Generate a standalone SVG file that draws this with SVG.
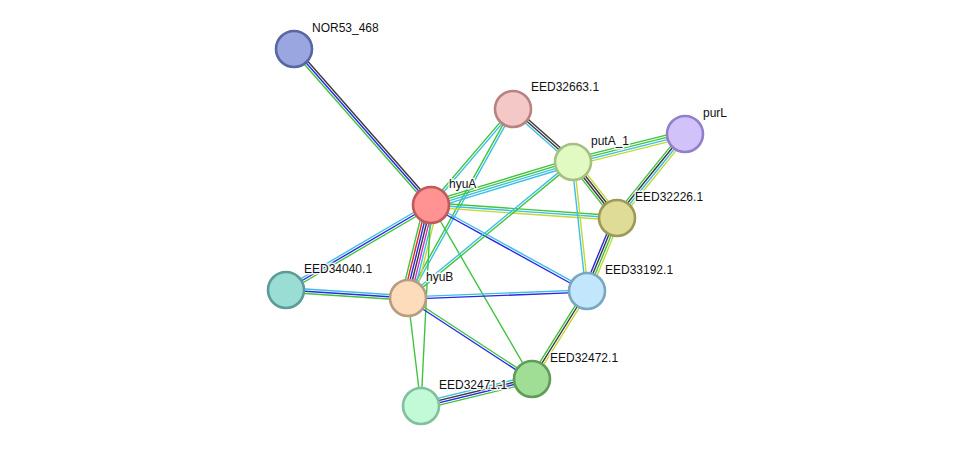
<svg xmlns="http://www.w3.org/2000/svg" width="975" height="452" viewBox="0 0 975 452">
<style>
line{stroke-width:1.4;fill:none}
.g{stroke:#3ec43e}.c{stroke:#3cbfe4}.b{stroke:#2828e6}.k{stroke:#3a3a3a}.y{stroke:#c4d838}.r{stroke:#e62626}.m{stroke:#d030d0}
circle{stroke-width:2.6}
text{font-family:"Liberation Sans",Arial,sans-serif;font-size:12px;fill:#111;stroke:#fff;stroke-width:3;stroke-opacity:0.85;paint-order:stroke;stroke-linejoin:round}
</style>
<rect width="975" height="452" fill="#fff"/>
<g id="edges">
<g transform="translate(294,49) rotate(48.71)"><line class="k" x1="0" y1="-2.3" x2="207.6" y2="-2.3"/><line class="b" x1="0" y1="0" x2="207.6" y2="0"/><line class="g" x1="0" y1="2.3" x2="207.6" y2="2.3"/></g>
<g transform="translate(513,109) rotate(130.51)"><line class="c" x1="0" y1="-1.15" x2="126.3" y2="-1.15"/><line class="g" x1="0" y1="1.15" x2="126.3" y2="1.15"/></g>
<g transform="translate(513,109) rotate(41.46)"><line class="k" x1="0" y1="-2.3" x2="80" y2="-2.3"/><line class="k" x1="0" y1="0" x2="80" y2="0"/><line class="c" x1="0" y1="2.3" x2="80" y2="2.3"/></g>
<g transform="translate(513,109) rotate(119.05)"><line class="c" x1="0" y1="-1.15" x2="216.2" y2="-1.15"/><line class="g" x1="0" y1="1.15" x2="216.2" y2="1.15"/></g>
<g transform="translate(573,162) rotate(-14.04)"><line class="g" x1="0" y1="-3.45" x2="115.4" y2="-3.45"/><line class="g" x1="0" y1="-1.15" x2="115.4" y2="-1.15"/><line class="c" x1="0" y1="1.15" x2="115.4" y2="1.15"/><line class="y" x1="0" y1="3.45" x2="115.4" y2="3.45"/></g>
<g transform="translate(685,134) rotate(128.99)"><line class="y" x1="0" y1="-3.45" x2="108.1" y2="-3.45"/><line class="c" x1="0" y1="-1.15" x2="108.1" y2="-1.15"/><line class="k" x1="0" y1="1.15" x2="108.1" y2="1.15"/><line class="g" x1="0" y1="3.45" x2="108.1" y2="3.45"/></g>
<g transform="translate(431,205) rotate(-16.85)"><line class="g" x1="0" y1="-3.45" x2="148.4" y2="-3.45"/><line class="g" x1="0" y1="-1.15" x2="148.4" y2="-1.15"/><line class="c" x1="0" y1="1.15" x2="148.4" y2="1.15"/><line class="c" x1="0" y1="3.45" x2="148.4" y2="3.45"/></g>
<g transform="translate(431,205) rotate(4.0)"><line class="g" x1="0" y1="-2.3" x2="186.5" y2="-2.3"/><line class="c" x1="0" y1="0" x2="186.5" y2="0"/><line class="y" x1="0" y1="2.3" x2="186.5" y2="2.3"/></g>
<g transform="translate(431,205) rotate(28.87)"><line class="c" x1="0" y1="-1.15" x2="178.1" y2="-1.15"/><line class="b" x1="0" y1="1.15" x2="178.1" y2="1.15"/></g>
<g transform="translate(431,205) rotate(149.62)"><line class="g" x1="0" y1="-2.3" x2="168.1" y2="-2.3"/><line class="b" x1="0" y1="0" x2="168.1" y2="0"/><line class="c" x1="0" y1="2.3" x2="168.1" y2="2.3"/></g>
<g transform="translate(431,205) rotate(103.89)"><line class="y" x1="0" y1="-6.9" x2="95.8" y2="-6.9"/><line class="c" x1="0" y1="-4.6" x2="95.8" y2="-4.6"/><line class="m" x1="0" y1="-2.3" x2="95.8" y2="-2.3"/><line class="k" x1="0" y1="0" x2="95.8" y2="0"/><line class="b" x1="0" y1="2.3" x2="95.8" y2="2.3"/><line class="r" x1="0" y1="4.6" x2="95.8" y2="4.6"/><line class="g" x1="0" y1="6.9" x2="95.8" y2="6.9"/></g>
<g transform="translate(431,205) rotate(59.87)"><line class="g" x1="0" y1="0" x2="201.2" y2="0"/></g>
<g transform="translate(431,205) rotate(92.85)"><line class="g" x1="0" y1="0" x2="201.2" y2="0"/></g>
<g transform="translate(573,162) rotate(140.51)"><line class="g" x1="0" y1="-1.15" x2="213.8" y2="-1.15"/><line class="c" x1="0" y1="1.15" x2="213.8" y2="1.15"/></g>
<g transform="translate(573,162) rotate(83.81)"><line class="y" x1="0" y1="-1.15" x2="129.8" y2="-1.15"/><line class="c" x1="0" y1="1.15" x2="129.8" y2="1.15"/></g>
<g transform="translate(573,162) rotate(51.84)"><line class="y" x1="0" y1="-3.45" x2="71.2" y2="-3.45"/><line class="k" x1="0" y1="-1.15" x2="71.2" y2="-1.15"/><line class="k" x1="0" y1="1.15" x2="71.2" y2="1.15"/><line class="g" x1="0" y1="3.45" x2="71.2" y2="3.45"/></g>
<g transform="translate(617,218) rotate(112.34)"><line class="y" x1="0" y1="-3.45" x2="78.9" y2="-3.45"/><line class="g" x1="0" y1="-1.15" x2="78.9" y2="-1.15"/><line class="k" x1="0" y1="1.15" x2="78.9" y2="1.15"/><line class="b" x1="0" y1="3.45" x2="78.9" y2="3.45"/></g>
<g transform="translate(587,291) rotate(122.0)"><line class="y" x1="0" y1="-2.3" x2="103.8" y2="-2.3"/><line class="k" x1="0" y1="0" x2="103.8" y2="0"/><line class="g" x1="0" y1="2.3" x2="103.8" y2="2.3"/></g>
<g transform="translate(408,298) rotate(-2.24)"><line class="c" x1="0" y1="-1.15" x2="179.1" y2="-1.15"/><line class="b" x1="0" y1="1.15" x2="179.1" y2="1.15"/></g>
<g transform="translate(286,290) rotate(3.75)"><line class="c" x1="0" y1="-2.3" x2="122.3" y2="-2.3"/><line class="b" x1="0" y1="0" x2="122.3" y2="0"/><line class="g" x1="0" y1="2.3" x2="122.3" y2="2.3"/></g>
<g transform="translate(408,298) rotate(33.15)"><line class="g" x1="0" y1="-1.15" x2="148.1" y2="-1.15"/><line class="b" x1="0" y1="1.15" x2="148.1" y2="1.15"/></g>
<g transform="translate(408,298) rotate(83.14)"><line class="g" x1="0" y1="0" x2="108.8" y2="0"/></g>
<g transform="translate(421,406) rotate(-13.67)"><line class="c" x1="0" y1="-3.45" x2="114.2" y2="-3.45"/><line class="k" x1="0" y1="-1.15" x2="114.2" y2="-1.15"/><line class="b" x1="0" y1="1.15" x2="114.2" y2="1.15"/><line class="g" x1="0" y1="3.45" x2="114.2" y2="3.45"/></g>
</g>
<g id="NOR53_468"><circle cx="294" cy="49" r="18" fill="#99a6e0" stroke="#5a66a2"/><text x="312" y="32">NOR53_468</text></g>
<g id="EED32663.1"><circle cx="513" cy="109" r="18" fill="#f5c8c8" stroke="#b88282"/><text x="531" y="91">EED32663.1</text></g>
<g id="purL"><circle cx="685" cy="134" r="18" fill="#d2c2fa" stroke="#9480c8"/><text x="703" y="117">purL</text></g>
<g id="putA_1"><circle cx="573" cy="162" r="18" fill="#e0fac2" stroke="#a6c082"/><text x="591" y="145">putA_1</text></g>
<g id="hyuA"><circle cx="431" cy="205" r="18" fill="#ff9292" stroke="#c05a5a"/><text x="449" y="188">hyuA</text></g>
<g id="EED32226.1"><circle cx="617" cy="218" r="18" fill="#dedc96" stroke="#9c9a58"/><text x="635" y="201">EED32226.1</text></g>
<g id="EED34040.1"><circle cx="286" cy="290" r="18" fill="#99ddd4" stroke="#5c9c94"/><text x="304" y="273">EED34040.1</text></g>
<g id="hyuB"><circle cx="408" cy="298" r="18" fill="#fddcbc" stroke="#b89c80"/><text x="426" y="281">hyuB</text></g>
<g id="EED33192.1"><circle cx="587" cy="291" r="18" fill="#c2e6fc" stroke="#7aa6c0"/><text x="605" y="274">EED33192.1</text></g>
<g id="EED32472.1"><circle cx="532" cy="379" r="18" fill="#a0de96" stroke="#609c58"/><text x="550" y="362">EED32472.1</text></g>
<g id="EED32471.1"><circle cx="421" cy="406" r="18" fill="#c2fad8" stroke="#80c09c"/><text x="439" y="389">EED32471.1</text></g>
</svg>
